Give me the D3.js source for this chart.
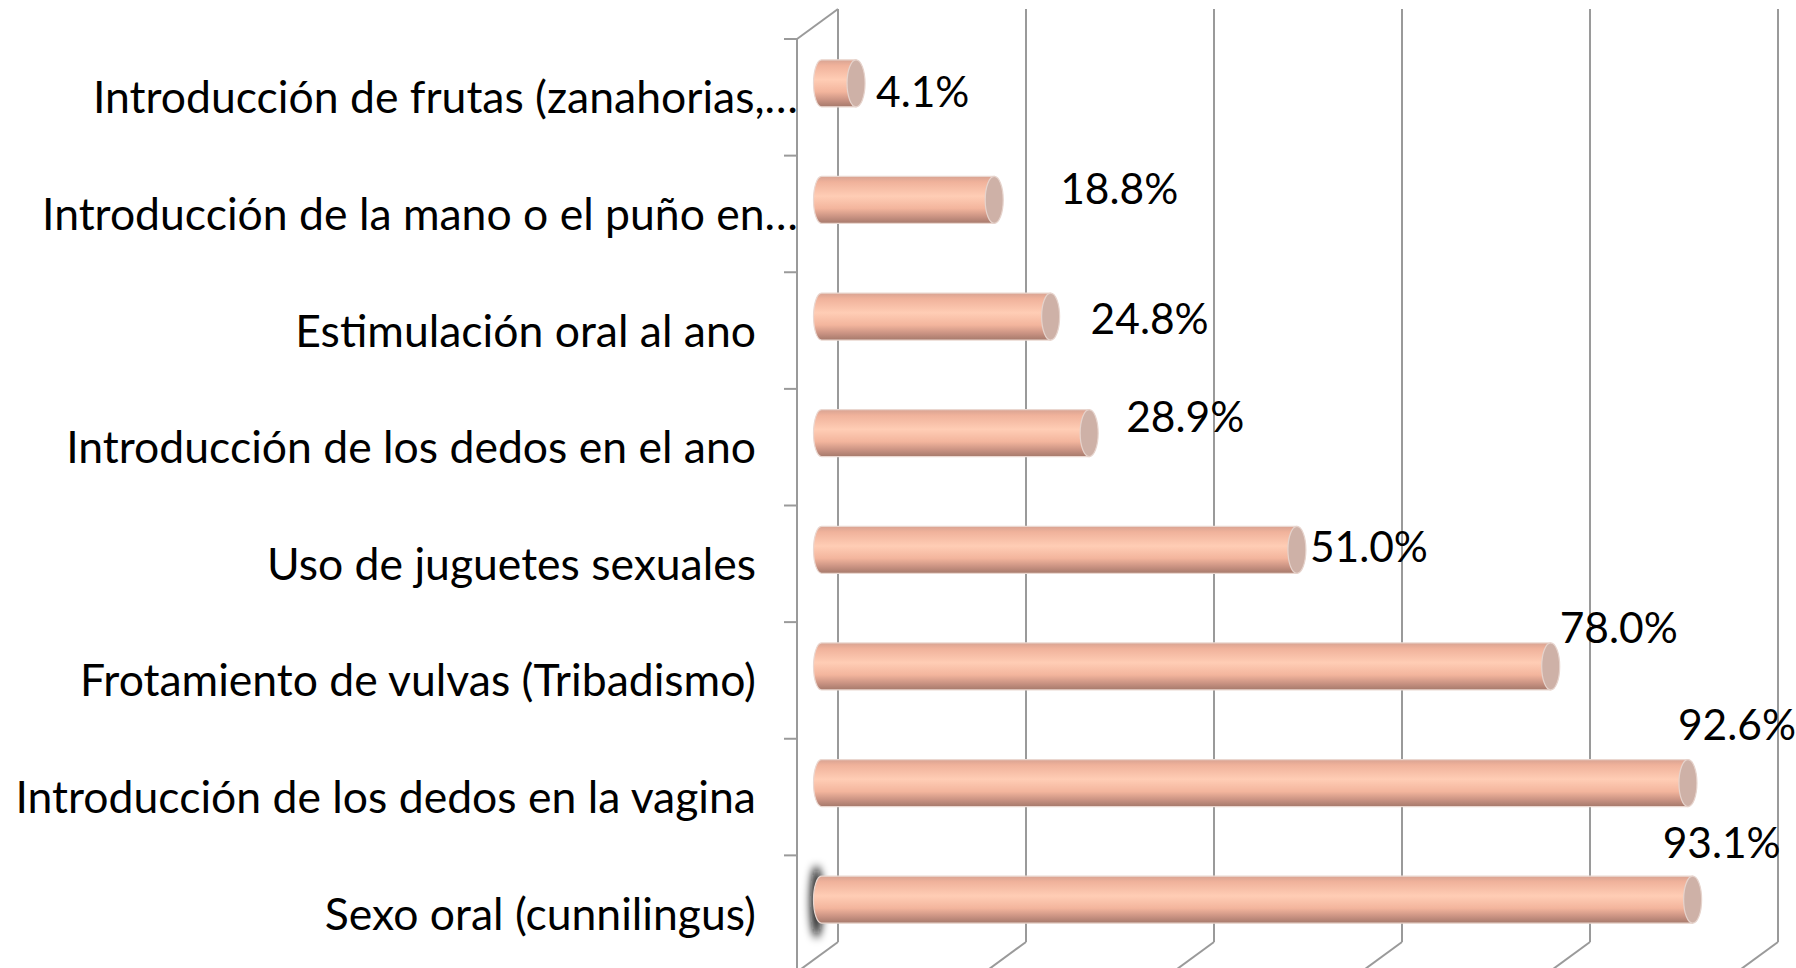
<!DOCTYPE html>
<html>
<head>
<meta charset="utf-8">
<script src="https://cdn.jsdelivr.net/npm/d3@7"></script>
<style>
    html, body { margin: 0; padding: 0; background: #fff; }
    svg { display: block; }
</style>
</head>
<body>
<svg id="chart"></svg>
<script>
// Chart data (top to bottom, as in the picture)
const categories = [
    "Introducción de frutas (zanahorias,…",
    "Introducción de la mano o el puño en…",
    "Estimulación oral al ano",
    "Introducción de los dedos en el ano",
    "Uso de juguetes sexuales",
    "Frotamiento de vulvas (Tribadismo)",
    "Introducción de los dedos en la vagina",
    "Sexo oral (cunnilingus)"
];
const values = [4.1, 18.8, 24.8, 28.9, 51.0, 78.0, 92.6, 93.1];
const xTicks = [0, 20, 40, 60, 80, 100];

// Layout
const width = 1796;
const height = 968;
const depthX = 41;     // 3D depth offset
const depthY = 30;
const frontLeft = 797;
const plotTop = 39;    // front top
const plotBottom = 972;
const barH = 47;
const fontFamily = "Lato, 'Open Sans', sans-serif";
const catFontSize = 44.5;
const valFontSize = 42.5;

// Excel's 3D label placement is irregular, nudges relative to bar end
const labelNudge = [[20, 24], [66, 4], [40, 17], [37, -1], [13, 12], [9, -23], [-10, -43], [-30, -42]];

const svg = d3.select("#chart")
    .attr("width", width)
    .attr("height", height);

const defs = svg.append("defs");

// Cylinder shading
const grad = defs.append("linearGradient")
    .attr("id", "barGrad")
    .attr("x1", 0).attr("y1", 0).attr("x2", 0).attr("y2", 1);
[
    [0, "#d8a392"], [0.12, "#f0b29b"], [0.42, "#ffcdb5"],
    [0.68, "#f3b59d"], [0.86, "#c99282"], [1, "#a5796b"]
].forEach(s => grad.append("stop").attr("offset", s[0]).attr("stop-color", s[1]));

defs.append("filter")
    .attr("id", "blur")
    .attr("x", "-200%").attr("y", "-50%").attr("width", "500%").attr("height", "200%")
    .append("feGaussianBlur").attr("stdDeviation", 4);

// Scales: x on the back wall, y on the front axis
const xBack = d3.scaleLinear().domain([0, 100]).range([frontLeft + depthX, frontLeft + depthX + 940]);
const y = d3.scaleBand().domain(categories).range([plotTop, plotBottom]);
const xMid = v => xBack(v) - depthX / 2;
const yMid = c => y(c) + y.bandwidth() / 2 - depthY / 2 + 1;

const wallTop = plotTop - depthY;
const wallBottom = plotBottom - depthY;
const gridColor = "#9a9a9a";

const grid = svg.append("g")
    .attr("stroke", gridColor)
    .attr("stroke-width", 2)
    .attr("fill", "none");

// Back wall vertical gridlines
grid.selectAll("line.v")
    .data(xTicks)
    .join("line")
    .attr("class", "v")
    .attr("x1", d => xBack(d)).attr("x2", d => xBack(d))
    .attr("y1", wallTop).attr("y2", wallBottom);

// Floor diagonals
grid.selectAll("line.f")
    .data(xTicks)
    .join("line")
    .attr("class", "f")
    .attr("x1", d => xBack(d)).attr("y1", wallBottom)
    .attr("x2", d => xBack(d) - depthX).attr("y2", plotBottom);

// Side wall: front axis and top edge
grid.append("line")
    .attr("x1", frontLeft).attr("x2", frontLeft)
    .attr("y1", plotTop).attr("y2", plotBottom);
grid.append("line")
    .attr("x1", frontLeft).attr("y1", plotTop)
    .attr("x2", xBack(0)).attr("y2", wallTop);

// Tick marks between categories
const tickYs = categories.map(c => y(c)).concat([plotBottom]);
grid.selectAll("line.t")
    .data(tickYs)
    .join("line")
    .attr("class", "t")
    .attr("x1", frontLeft - 13).attr("x2", frontLeft)
    .attr("y1", d => d).attr("y2", d => d);

// Dark smudge to the left of the last bar
const last = categories[categories.length - 1];
svg.append("ellipse")
    .attr("cx", xMid(0) - 1)
    .attr("cy", yMid(last) + 2)
    .attr("rx", 6)
    .attr("ry", 36)
    .attr("fill", "#111")
    .attr("filter", "url(#blur)");

// Cylinder bars
const rx = 8;
const ry = barH / 2;
const bars = svg.append("g")
    .selectAll("g")
    .data(categories.map((c, i) => ({ c, v: values[i], i })))
    .join("g");

bars.append("path")
    .attr("d", d => {
        const x0 = xMid(0) + 4, x1 = xMid(d.v), t = yMid(d.c) - ry, b = yMid(d.c) + ry;
        return `M${x0},${t} L${x1},${t} L${x1},${b} L${x0},${b} A${rx},${ry} 0 0 1 ${x0},${t} Z`;
    })
    .attr("fill", "url(#barGrad)")
    .attr("stroke", "#ead7d0")
    .attr("stroke-width", 1.2);

bars.append("ellipse")
    .attr("cx", d => xMid(d.v))
    .attr("cy", d => yMid(d.c))
    .attr("rx", rx + 1)
    .attr("ry", ry)
    .attr("fill", "#ceb1a7")
    .attr("stroke", "#e6d3cc")
    .attr("stroke-width", 1.2);

// Value labels
bars.append("text")
    .attr("x", d => xMid(d.v) + labelNudge[d.i][0])
    .attr("y", d => yMid(d.c) + labelNudge[d.i][1])
    .attr("font-family", fontFamily)
    .attr("font-size", valFontSize)
    .attr("fill", "#000")
    .text(d => d.v.toFixed(1) + "%");

// Category labels (truncated ones run up to the axis)
svg.append("g")
    .selectAll("text")
    .data(categories)
    .join("text")
    .attr("x", d => d.endsWith("…") ? frontLeft + 1 : 756)
    .attr("y", d => y(d) + y.bandwidth() / 2)
    .attr("dy", "0.36em")
    .attr("text-anchor", "end")
    .attr("font-family", fontFamily)
    .attr("font-size", catFontSize)
    .attr("fill", "#000")
    .text(d => d);
</script>
</body>
</html>
